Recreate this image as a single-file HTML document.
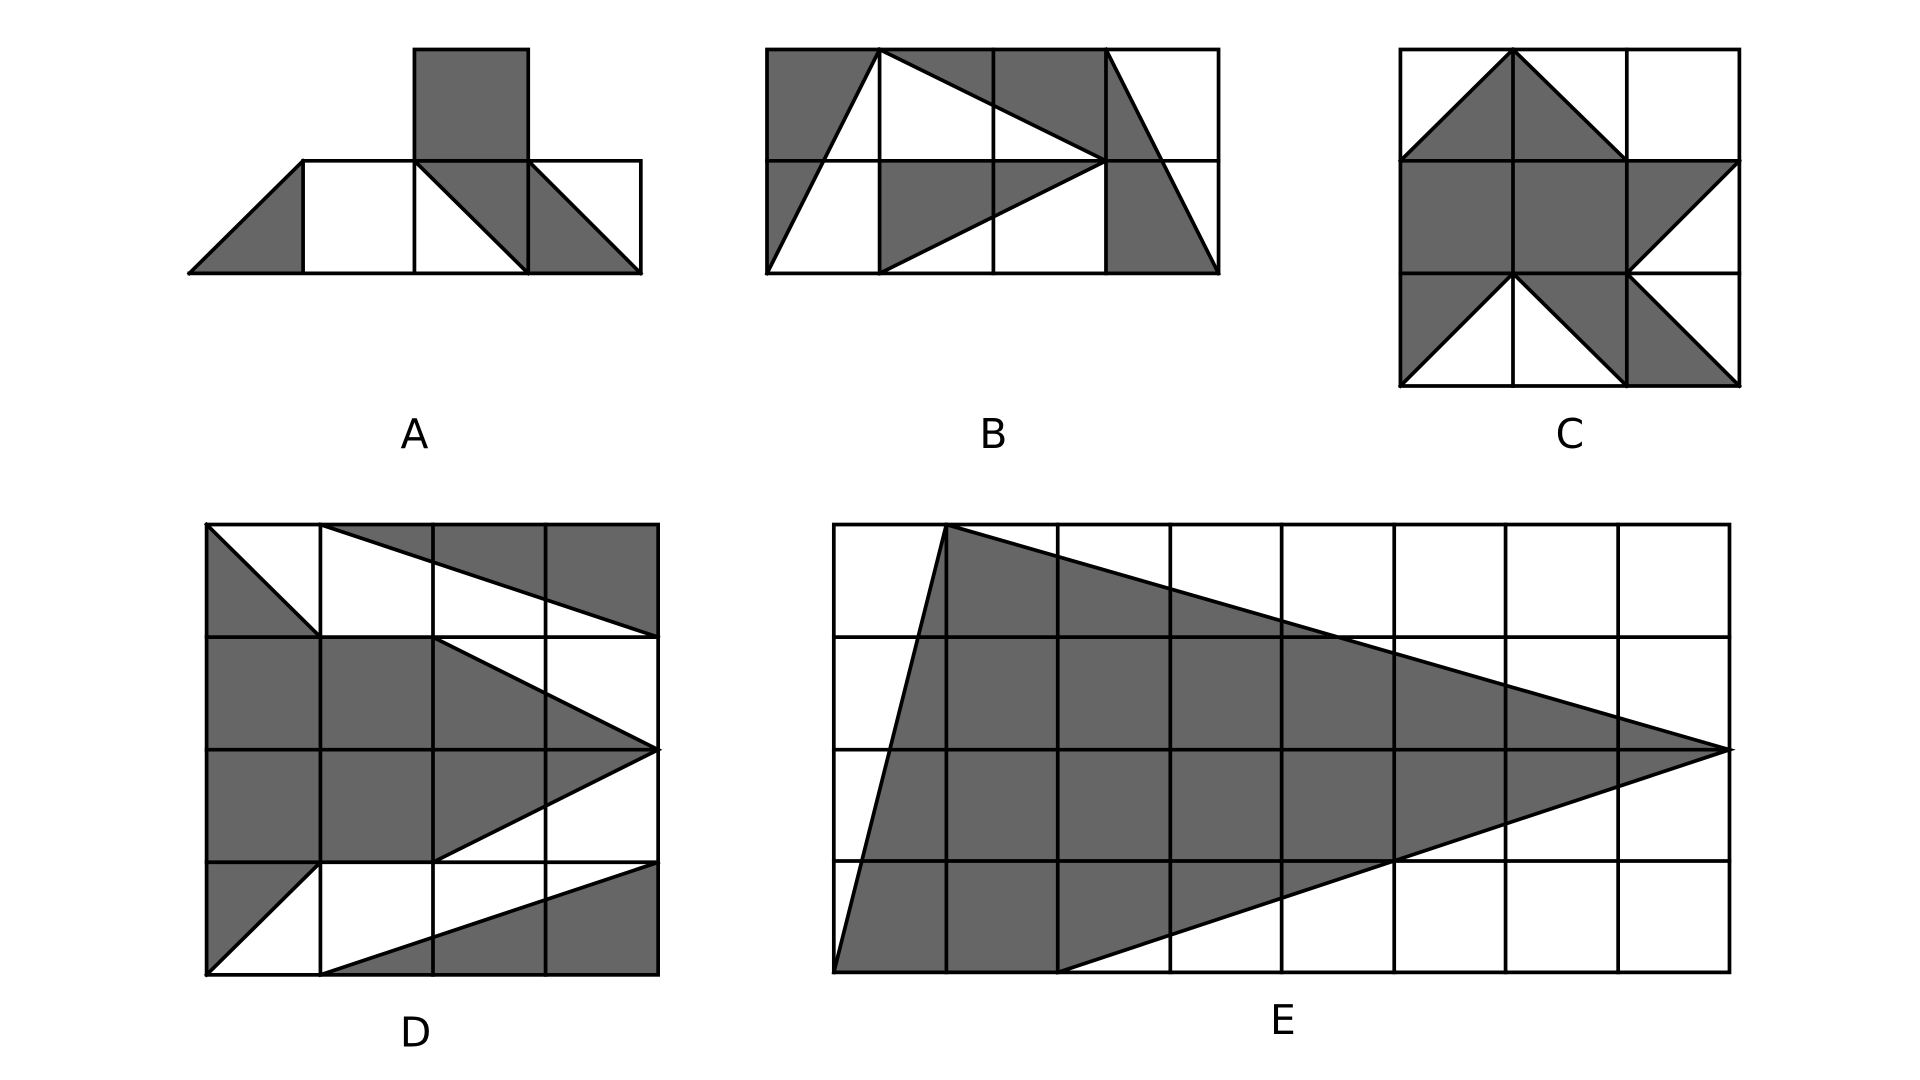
<!DOCTYPE html>
<html><head><style>html,body{margin:0;padding:0;background:#fff;}svg{display:block}</style></head>
<body>
<svg width="1920" height="1080" viewBox="0 0 1552 873" preserveAspectRatio="none" xmlns="http://www.w3.org/2000/svg">
<g fill="#666" stroke="none">
<!-- A -->
<rect x="335" y="40" width="92" height="90"/>
<polygon points="153,221 245,130 245,221"/>
<polygon points="335,130 427,130 518,221 427,221"/>
<!-- B -->
<polygon points="620,40 711,40 620,221"/>
<polygon points="711,40 894,40 894,130"/>
<polygon points="711,130 894,130 711,221"/>
<polygon points="894,40 985,221 894,221"/>
<!-- C -->
<polygon points="1132,130 1223,40 1315,130"/>
<polygon points="1132,130 1406,130 1315,221 1132,221"/>
<polygon points="1132,221 1223,221 1132,312"/>
<polygon points="1223,221 1315,221 1406,312 1315,312"/>
<!-- D -->
<polygon points="167,424 259,515 167,515"/>
<polygon points="259,424 532,424 532,515"/>
<polygon points="167,515 350,515 532,606 350,697 167,697"/>
<polygon points="167,697 259,697 167,788"/>
<polygon points="259,788 532,697 532,788"/>
<!-- E -->
<polygon points="765,424 1398,606 855,786 674,786"/>
</g>
<g fill="none" stroke="#000" stroke-width="3" stroke-linecap="square">
<!-- A -->
<rect x="335" y="40" width="92" height="90"/>
<path d="M153,221H518V130H245V221M335,130V221M427,130V221M153,221L245,130M335,130L427,221M427,130L518,221"/>
<!-- B -->
<rect x="620" y="40" width="365" height="181"/>
<path d="M711,40V221M803,40V221M894,40V221M620,130H985M711,40L620,221M711,40L894,130M894,130L711,221M894,40L985,221"/>
<!-- C -->
<rect x="1132" y="40" width="274" height="272"/>
<path d="M1223,40V312M1315,40V312M1132,130H1406M1132,221H1406M1132,130L1223,40L1315,130M1406,130L1315,221L1406,312M1223,221L1132,312M1223,221L1315,312"/>
<!-- D -->
<rect x="167" y="424" width="365" height="364"/>
<path d="M259,424V788M350,424V788M441,424V788M167,515H532M167,606H532M167,697H532M167,424L259,515M259,424L532,515M350,515L532,606L350,697M259,697L167,788M259,788L532,697"/>
<!-- E -->
<rect x="674" y="424" width="724" height="362"/>
<path d="M765,424V786M855,424V786M946,424V786M1036,424V786M1127,424V786M1217,424V786M1308,424V786M674,515H1398M674,606H1398M674,696H1398M674,786L765,424L1398,606L855,786"/>
</g>
<g font-family="'DejaVu Sans','Liberation Sans',sans-serif" font-size="33" fill="#000" text-anchor="middle">
<text x="335" y="362">A</text>
<text x="803" y="362">B</text>
<text x="1269" y="362">C</text>
<text x="336" y="846">D</text>
<text x="1037" y="836">E</text>
</g>
</svg>
</body></html>
